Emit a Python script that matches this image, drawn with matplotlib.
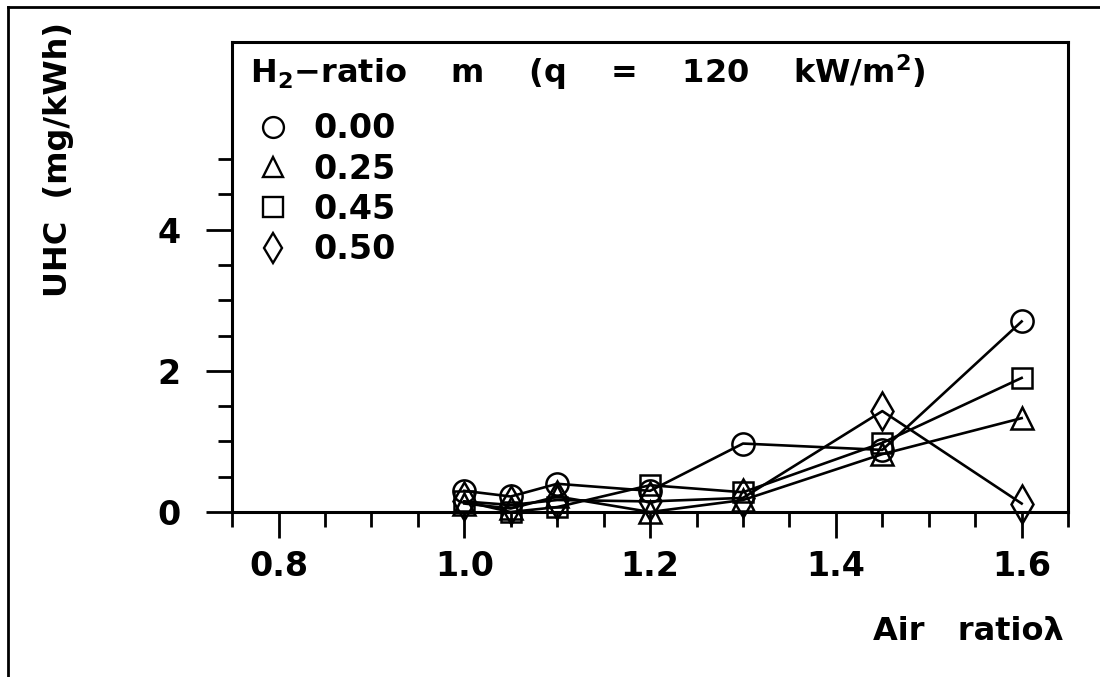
#!/usr/bin/env python3
import matplotlib
matplotlib.use("Agg")
import matplotlib.pyplot as plt
from matplotlib.lines import Line2D
from matplotlib.ticker import FixedLocator, NullFormatter

# air ratio lambda
air_ratio = [1.0, 1.05, 1.1, 1.2, 1.3, 1.45, 1.6]

# UHC (mg/kWh) for each H2-ratio m
uhc_m000 = [0.30, 0.22, 0.40, 0.30, 0.97, 0.88, 2.70]
uhc_m025 = [0.12, 0.05, 0.22, 0.00, 0.17, 0.82, 1.33]
uhc_m045 = [0.15, 0.00, 0.07, 0.38, 0.28, 0.98, 1.90]
uhc_m050 = [0.15, 0.10, 0.17, 0.15, 0.20, 1.43, 0.12]

labels = ["0.00", "0.25", "0.45", "0.50"]
markers = ["o", "^", "s", "d"]

x_major = [0.8, 1.0, 1.2, 1.4, 1.6]
y_major = [0, 2, 4]


def main():
    plt.rcParams["font.weight"] = "bold"
    fig = plt.figure(figsize=(11, 6.77), dpi=100)
    ax = fig.add_axes([0.211, 0.2437, 0.760, 0.6943])

    series = [uhc_m000, uhc_m025, uhc_m045, uhc_m050]
    sizes = [16, 16, 15, 19]
    for ys, mk, ms in zip(series, markers, sizes):
        ax.plot(air_ratio, ys, color="black", lw=1.9, marker=mk, ms=ms,
                mfc="none", mec="black", mew=1.8, clip_on=False)

    ax.set_xlim(0.75, 1.65)
    ax.set_ylim(0, 6.66)

    ax.xaxis.set_major_locator(FixedLocator(x_major))
    ax.xaxis.set_minor_locator(FixedLocator([0.75 + 0.05 * i for i in range(19)]))
    ax.yaxis.set_major_locator(FixedLocator(y_major))
    ax.yaxis.set_minor_locator(FixedLocator([0.5 * i for i in range(11)]))
    ax.xaxis.set_minor_formatter(NullFormatter())
    ax.yaxis.set_minor_formatter(NullFormatter())
    ax.set_xticklabels([f"{v:.1f}" for v in x_major])
    ax.set_yticklabels([str(v) for v in y_major])

    ax.tick_params(axis="both", which="major", direction="out", width=2.0,
                   labelsize=24, colors="black")
    ax.tick_params(axis="x", which="major", length=19, pad=8)
    ax.tick_params(axis="x", which="minor", length=11, width=2.0, direction="out")
    ax.tick_params(axis="y", which="major", length=19, pad=18)
    ax.tick_params(axis="y", which="minor", length=10, width=2.0, direction="out")

    for s in ax.spines.values():
        s.set_linewidth(2.2)

    # axis labels placed like in the original scan
    ax.text(0.995, -0.255, "Air   ratio\u03bb", transform=ax.transAxes,
            ha="right", va="center", fontsize=23)
    fig.text(0.053, 0.765, "UHC  (mg/kWh)", rotation=90, ha="center",
             va="center", fontsize=23)

    # legend header
    ax.text(0.0215, 0.936,
            "H$_\\mathbf{2}$\u2212ratio    m    (q    =    120    kW/m$^\\mathbf{2}$)",
            transform=ax.transAxes, ha="left", va="center", fontsize=23)

    handles = [Line2D([], [], ls="none", marker=mk, ms=15, mfc="none",
                      mec="black", mew=1.7) for mk in markers]
    ax.legend(handles, labels, loc="upper left", bbox_to_anchor=(0.033, 0.85),
              fontsize=24, frameon=False, handlelength=0.8, handletextpad=0.8,
              labelspacing=0.22, borderpad=0.0, borderaxespad=0.0)

    # scan border (left and top edge only)
    fig.add_artist(Line2D([0.0075, 0.0075], [0.0, 0.99], color="black", lw=2))
    fig.add_artist(Line2D([0.0075, 1.0], [0.99, 0.99], color="black", lw=2))

    fig.savefig("out.png", dpi=100)
    plt.close(fig)
    return 0


if __name__ == "__main__":
    raise SystemExit(main())
